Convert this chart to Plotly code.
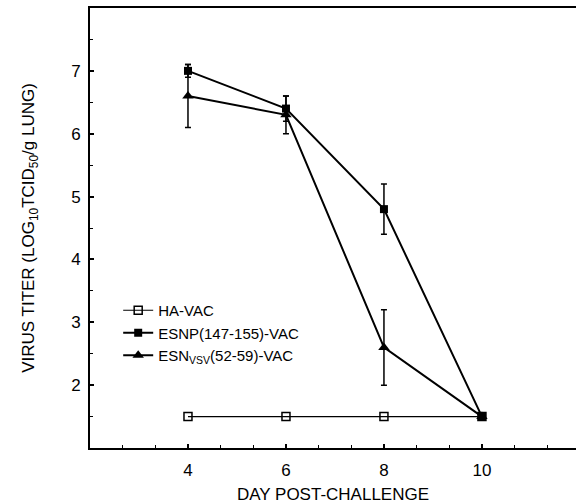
import plotly.graph_objects as go

days = [4, 6, 8, 10]
ha_vac = [1.5, 1.5, 1.5, 1.5]
esnp = [7.0, 6.4, 4.8, 1.5]
esnp_err = [0.1, 0.2, 0.4, 0.0]
esnvsv = [6.6, 6.3, 2.6, 1.5]
esnvsv_err = [0.5, 0.3, 0.6, 0.0]

names = ["HA-VAC", "ESNP(147-155)-VAC", "ESN<sub>VSV</sub>(52-59)-VAC"]
x_ticks = [4, 6, 8, 10]
y_ticks = [2, 3, 4, 5, 6, 7]

font = "Liberation Sans, Arial, sans-serif"

fig = go.Figure()
fig.add_trace(go.Scatter(
    x=days, y=ha_vac, name=names[0], mode="lines+markers",
    line=dict(color="black", width=1.2),
    marker=dict(symbol="square-open", size=8, color="black", line=dict(width=1.5)),
))
fig.add_trace(go.Scatter(
    x=days, y=esnp, name=names[1], mode="lines+markers",
    line=dict(color="black", width=2),
    marker=dict(symbol="square", size=8, color="black"),
    error_y=dict(type="data", array=esnp_err, color="black", thickness=1.5, width=3),
))
fig.add_trace(go.Scatter(
    x=days, y=esnvsv, name=names[2], mode="lines+markers",
    line=dict(color="black", width=2),
    marker=dict(symbol="triangle-up", size=10, color="black"),
    error_y=dict(type="data", array=esnvsv_err, color="black", thickness=1.5, width=3),
))

fig.update_layout(
    width=576, height=504,
    margin=dict(l=90, r=0, t=8, b=56),
    paper_bgcolor="white", plot_bgcolor="white",
    font=dict(family=font, size=15, color="black"),
    showlegend=True,
    legend=dict(x=0.058, y=0.35, xanchor="left", yanchor="top",
                bgcolor="rgba(0,0,0,0)", font=dict(size=15), tracegroupgap=0),
    xaxis=dict(
        range=[2, 11.92], tickmode="array", tickvals=x_ticks, automargin=False,
        showline=True, linecolor="black", linewidth=2, mirror=True,
        ticks="inside", ticklen=4, tickwidth=1.5, tickcolor="black",
        showgrid=False, zeroline=False,
        tickfont=dict(size=17), ticklabelstandoff=6,
        title=dict(text="DAY POST-CHALLENGE", font=dict(size=17), standoff=23),
        minor=dict(tickmode="linear", tick0=2, dtick=2/3, ticks="inside",
                   ticklen=3, tickwidth=1, tickcolor="black"),
    ),
    yaxis=dict(
        range=[1, 8], tickmode="array", tickvals=y_ticks, automargin=False,
        showline=True, linecolor="black", linewidth=2, mirror=False,
        ticks="inside", ticklen=4, tickwidth=1.5, tickcolor="black",
        showgrid=False, zeroline=False,
        tickfont=dict(size=17), ticklabelstandoff=4,
        title=dict(text="VIRUS TITER (LOG<sub>10</sub>TCID<sub>50</sub>/g LUNG)",
                   font=dict(size=17), standoff=32),
        minor=dict(tickmode="linear", tick0=1.5, dtick=0.5, ticks="inside",
                   ticklen=3, tickwidth=1, tickcolor="black"),
    ),
)

fig.write_html("out.html")
